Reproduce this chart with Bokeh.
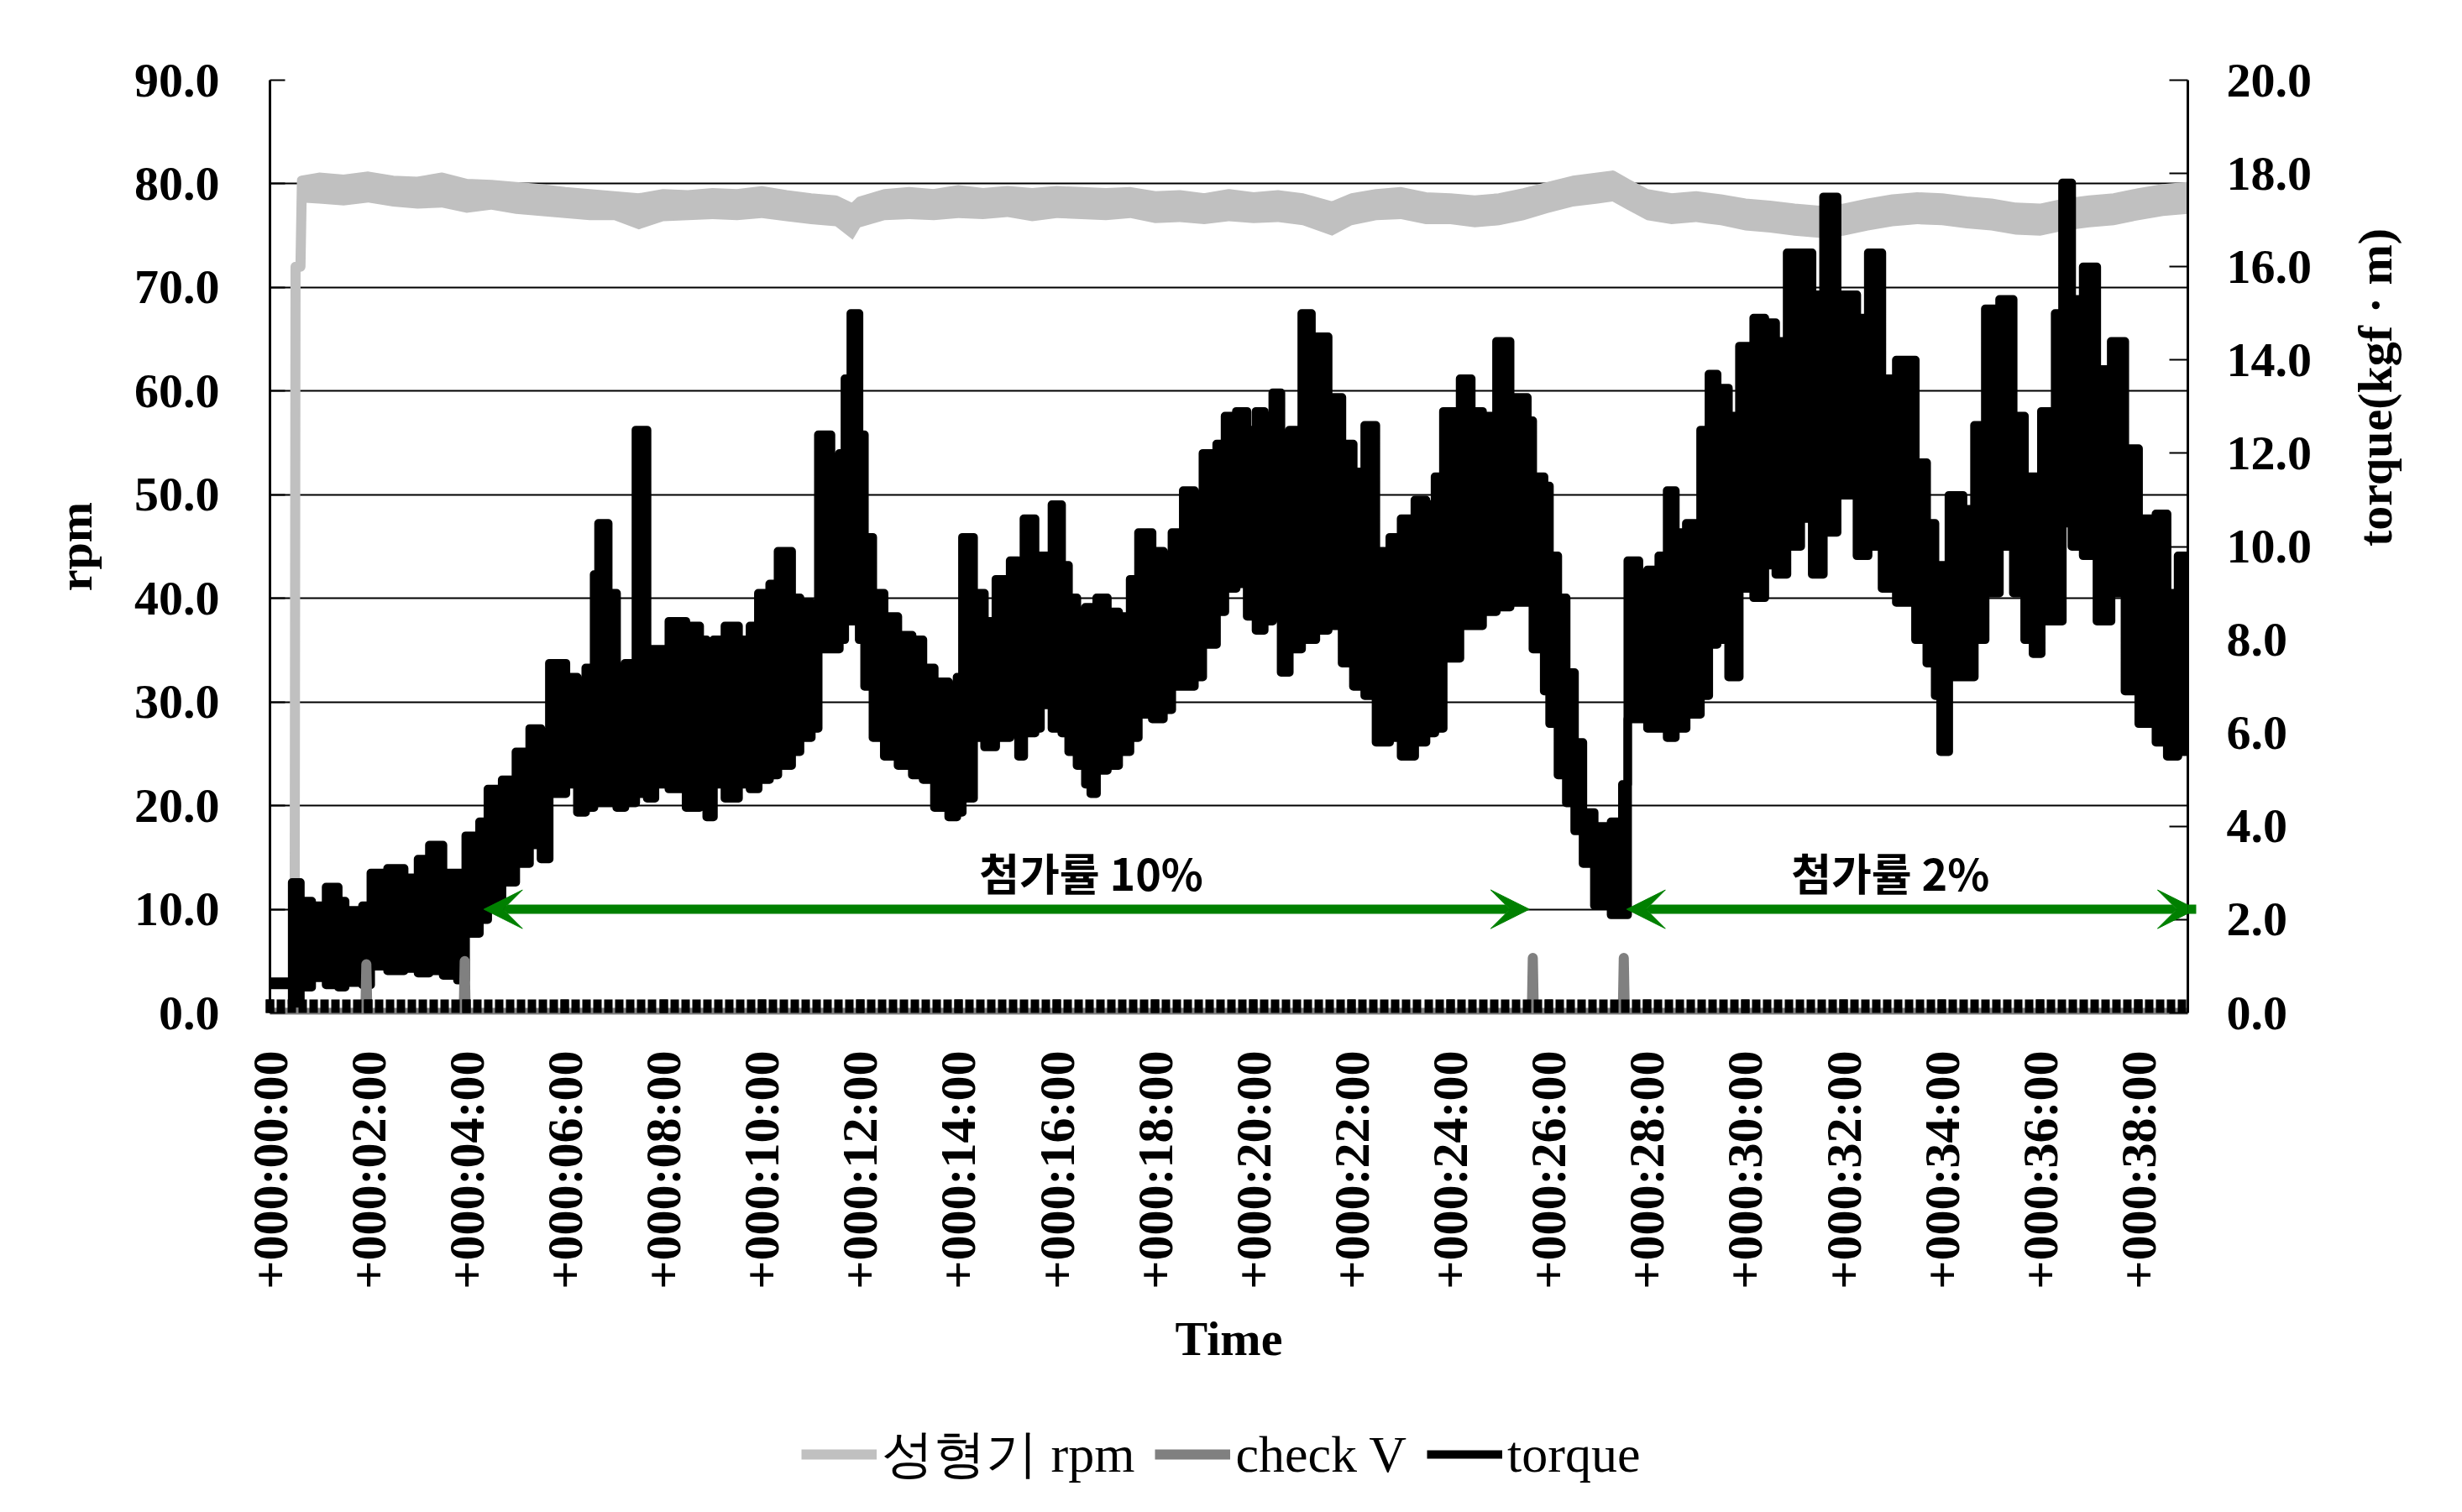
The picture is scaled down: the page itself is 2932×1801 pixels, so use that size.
import math
import numpy as np
from bokeh.plotting import figure
from bokeh.layouts import column
from bokeh.models import (Range1d, LinearAxis, FixedTicker, PrintfTickFormatter,
                          Legend, LegendItem, Arrow, VeeHead, Label)
from bokeh.embed import file_html
from bokeh.resources import INLINE

# ---------------- data ----------------
time_tick_minutes = [0, 2, 4, 6, 8, 10, 12, 14, 16, 18, 20, 22, 24, 26, 28, 30, 32, 34, 36, 38]
time_tick_labels = ["+000:00:00", "+000:02:00", "+000:04:00", "+000:06:00", "+000:08:00",
                    "+000:10:00", "+000:12:00", "+000:14:00", "+000:16:00", "+000:18:00",
                    "+000:20:00", "+000:22:00", "+000:24:00", "+000:26:00", "+000:28:00",
                    "+000:30:00", "+000:32:00", "+000:34:00", "+000:36:00", "+000:38:00"]

# 성형기 rpm (left axis): time in minutes, upper / lower edge of the noisy trace
rpm_t = [0.0, 0.5, 0.52, 0.62, 0.65, 1.0, 1.5, 2.0, 2.5, 3.0, 3.5, 4.0, 4.5, 5.0, 5.5, 6.0,
         6.5, 7.0, 7.5, 8.0, 8.5, 9.0, 9.5, 10.0, 10.5, 11.0, 11.5, 11.85, 12.0, 12.5, 13.0,
         13.5, 14.0, 14.5, 15.0, 15.5, 16.0, 16.5, 17.0, 17.5, 18.0, 18.5, 19.0, 19.5, 20.0,
         20.5, 21.0, 21.6, 22.0, 22.5, 23.0, 23.5, 24.0, 24.5, 25.0, 25.5, 26.0, 26.5, 27.0,
         27.3, 27.6, 28.0, 28.5, 29.0, 29.5, 30.0, 30.5, 31.0, 31.5, 32.0, 32.5, 33.0, 33.5,
         34.0, 34.5, 35.0, 35.5, 36.0, 36.5, 37.0, 37.5, 38.0, 38.5, 39.0]
rpm_hi = [0.0, 0.0, 72.0, 72.0, 80.3, 80.6, 80.4, 80.7, 80.3, 80.2, 80.6, 80.0, 79.9, 79.7,
          79.5, 79.2, 79.0, 78.8, 78.6, 79.0, 78.9, 79.1, 79.0, 79.3, 78.9, 78.6, 78.4, 77.6,
          78.3, 79.0, 79.2, 79.0, 79.4, 79.1, 79.3, 79.1, 79.3, 79.2, 79.1, 79.2, 78.8, 78.9,
          78.6, 79.0, 78.7, 78.9, 78.6, 77.8, 78.6, 79.0, 79.2, 78.7, 78.6, 78.4, 78.6, 79.1,
          79.7, 80.3, 80.6, 80.8, 80.0, 79.0, 78.6, 78.8, 78.5, 78.1, 77.9, 77.6, 77.4, 77.6,
          78.1, 78.5, 78.7, 78.6, 78.3, 78.1, 77.7, 77.6, 78.1, 78.4, 78.6, 79.1, 79.5, 79.7]
rpm_lo = [0.0, 0.0, 72.0, 72.0, 78.2, 78.1, 77.9, 78.2, 77.8, 77.6, 77.7, 77.2, 77.5, 77.1,
          76.9, 76.7, 76.5, 76.5, 75.6, 76.4, 76.5, 76.6, 76.5, 76.7, 76.4, 76.1, 75.9, 74.6,
          75.8, 76.5, 76.6, 76.5, 76.7, 76.6, 76.8, 76.4, 76.7, 76.6, 76.5, 76.7, 76.2, 76.3,
          76.1, 76.4, 76.2, 76.3, 76.0, 75.0, 76.0, 76.5, 76.6, 76.1, 76.1, 75.8, 76.0, 76.5,
          77.2, 77.8, 78.1, 78.3, 77.5, 76.5, 76.1, 76.3, 76.0, 75.5, 75.3, 75.0, 74.8, 75.0,
          75.5, 75.9, 76.1, 76.0, 75.7, 75.5, 75.1, 75.0, 75.5, 75.8, 76.0, 76.5, 76.9, 77.1]

# check V (left axis)
checkv_t = [0.0, 1.94, 1.96, 1.98, 3.94, 3.96, 3.98, 25.66, 25.68, 25.70, 27.51, 27.53, 27.55, 39.0]
checkv_v = [0.0, 0.0, 4.7, 0.0, 0.0, 5.0, 0.0, 0.0, 5.3, 0.0, 0.0, 5.3, 0.0, 0.0]

# torque (right axis, kgf·m): segment start time, upper and lower edge of the noisy trace
torque_t = [0.00, 0.45, 0.62, 0.85, 1.14, 1.39, 1.53, 1.88, 2.05, 2.39, 2.73, 3.01, 3.24, 3.52,
            3.81, 3.98, 4.26, 4.43, 4.72, 5.00, 5.28, 5.51, 5.68, 6.02, 6.25, 6.42, 6.59, 6.68,
            6.88, 7.05, 7.22, 7.44, 7.67, 7.83, 8.11, 8.46, 8.74, 8.88, 9.02, 9.25, 9.53, 9.76,
            9.93, 10.16, 10.33, 10.61, 10.78, 11.01, 11.15, 11.41, 11.58, 11.69, 11.81, 11.98,
            12.09, 12.26, 12.49, 12.77, 13.06, 13.28, 13.51, 13.80, 13.97, 14.08, 14.31, 14.53,
            14.76, 15.05, 15.22, 15.33, 15.56, 15.67, 15.90, 16.10, 16.24, 16.41, 16.58, 16.69,
            16.81, 17.03, 17.26, 17.49, 17.66, 17.94, 18.17, 18.34, 18.57, 18.80, 18.97, 19.25,
            19.42, 19.65, 19.87, 20.05, 20.22, 20.39, 20.56, 20.73, 20.98, 21.18, 21.27, 21.52,
            21.80, 22.03, 22.26, 22.49, 22.77, 23.00, 23.28, 23.51, 23.69, 23.86, 24.20, 24.43,
            24.66, 24.94, 25.22, 25.57, 25.68, 25.91, 26.02, 26.19, 26.36, 26.53, 26.70, 26.93,
            27.27, 27.50, 27.61, 27.84, 28.01, 28.24, 28.41, 28.58, 28.80, 29.09, 29.26, 29.43,
            29.66, 29.88, 30.17, 30.40, 30.62, 30.85, 31.13, 31.36, 31.59, 31.87, 32.27, 32.50,
            32.78, 33.07, 33.46, 33.69, 33.86, 33.97, 34.14, 34.43, 34.66, 34.88, 35.17, 35.45,
            35.68, 35.85, 36.02, 36.30, 36.45, 36.64, 36.87, 37.15, 37.44, 37.72, 38.00, 38.35,
            38.58, 38.80, 39.00]
torque_hi = [0.67, 2.8, 2.4, 2.3, 2.7, 2.4, 2.2, 2.3, 3.0, 3.1, 2.9, 3.3, 3.6, 3.0,
             3.0, 3.8, 4.1, 4.8, 5.0, 5.6, 6.1, 6.0, 7.5, 7.2, 7.1, 7.4, 9.4, 10.5,
             9.0, 7.3, 7.5, 12.5, 7.8, 7.8, 8.4, 8.3, 8.0, 7.3, 8.0, 8.3, 8.0, 8.3,
             9.0, 9.2, 9.9, 8.9, 8.8, 8.6, 12.4, 11.5, 12.0, 13.6, 15.0, 12.4,
             10.2, 9.0, 8.5, 8.1, 8.0, 7.4, 7.1, 6.8, 7.2, 10.2, 9.0, 8.4,
             9.3, 9.7, 8.2, 10.6, 9.8, 9.8, 10.9, 9.6, 8.9, 8.5, 8.7, 8.7,
             8.9, 8.6, 8.5, 9.3, 10.3, 9.9, 9.7, 10.3, 11.2, 10.8, 12.0, 12.2,
             12.8, 12.9, 12.5, 12.9, 12.6, 13.3, 12.2, 12.5, 15.0, 12.7, 14.5, 13.2,
             12.2, 11.6, 12.6, 9.9, 10.2, 10.6, 11.0, 10.9, 11.5, 12.9, 13.6, 12.9,
             12.8, 14.4, 13.2, 12.7, 11.5, 11.3, 9.8, 8.9, 7.3, 5.8, 4.3, 4.0,
             4.1, 4.9, 9.7, 9.0, 9.5, 9.8, 11.2, 10.3, 10.5, 12.5, 13.7, 13.4,
             12.8, 14.3, 14.9, 14.8, 14.4, 16.3, 16.3, 15.4, 17.5, 15.4, 14.9, 16.3,
             13.6, 14.0, 11.8, 10.5, 9.6, 9.6, 11.1, 10.8, 12.6, 15.1, 15.3, 12.8,
             11.5, 11.5, 12.9, 15.0, 17.8, 15.3, 16.0, 13.8, 14.4, 12.1, 10.6, 10.7,
             9.0, 9.8, 9.8]
torque_lo = [0.60, 0.2, 0.55, 0.75, 0.6, 0.55, 0.65, 0.6, 1.0, 0.9, 0.95, 0.85, 0.9, 0.8,
             0.7, 1.7, 2.0, 2.3, 2.8, 3.2, 3.6, 3.3, 4.7, 4.9, 4.3, 4.4, 4.6, 4.5,
             4.5, 4.4, 4.5, 4.7, 4.6, 4.9, 4.8, 4.4, 4.6, 4.2, 4.9, 4.6, 4.9, 4.8,
             5.0, 5.1, 5.3, 5.6, 5.9, 6.1, 7.8, 7.8, 8.0, 8.4, 8.4, 8.0,
             7.0, 5.9, 5.5, 5.3, 5.1, 5.0, 4.4, 4.2, 4.3, 4.6, 5.9, 5.7,
             5.9, 6.0, 5.5, 6.0, 6.1, 6.6, 6.1, 6.0, 5.6, 5.3, 4.9, 4.7,
             5.2, 5.3, 5.6, 5.9, 6.4, 6.3, 6.5, 7.0, 7.0, 7.2, 7.9, 8.6,
             9.1, 9.2, 8.5, 8.2, 8.4, 8.5, 7.3, 7.8, 8.0, 8.0, 8.2, 8.3,
             7.5, 7.0, 6.8, 5.8, 5.9, 5.5, 5.8, 6.0, 6.1, 7.6, 8.3, 8.3,
             8.6, 8.7, 8.8, 8.8, 7.8, 6.9, 6.2, 5.1, 4.5, 3.9, 3.2, 2.3,
             2.1, 2.1, 6.3, 6.3, 6.1, 6.1, 5.9, 6.1, 6.4, 6.8, 7.9, 8.0,
             7.2, 9.1, 8.9, 9.6, 9.4, 10.0, 10.6, 9.4, 10.3, 11.1, 9.8, 10.0,
             9.1, 8.8, 8.0, 7.5, 6.8, 5.6, 7.2, 7.2, 8.0, 9.0, 10.0, 9.0,
             8.0, 7.7, 8.4, 8.4, 10.5, 10.0, 9.8, 8.4, 9.0, 6.9, 6.2, 5.8,
             5.5, 5.6, 5.6]

# annotations
annot_text = ["첨가률 10%", "첨가률 2%"]
annot_x = [16.7, 32.95]
annot_y = [13.6, 13.6]
arrow_x0 = [4.35, 27.59]
arrow_x1 = [25.61, 39.17]
arrow_y = [10.0, 10.0]

SERIF = "Liberation Serif"
GRAY_RPM = "#C0C0C0"
GRAY_CHK = "#808080"
GREEN = "#008000"

p = figure(width=2932, height=1680, x_range=Range1d(0, 39.0), y_range=Range1d(0, 90),
           output_backend="svg", toolbar_location=None,
           min_border_left=321, min_border_right=327, min_border_top=95, min_border_bottom=474)
p.extra_y_ranges = {"torque": Range1d(0, 20)}
p.outline_line_color = None
p.background_fill_color = "white"
p.border_fill_color = "white"

# grid
p.xgrid.visible = False
p.ygrid[0].ticker = FixedTicker(ticks=[10, 20, 30, 40, 50, 60, 70, 80])
p.ygrid.grid_line_color = "black"
p.ygrid.grid_line_width = 2

# left axis
ly = p.yaxis[0]
ly.ticker = FixedTicker(ticks=[0, 10, 20, 30, 40, 50, 60, 70, 80, 90])
ly.formatter = PrintfTickFormatter(format="%.1f")
ly.axis_label = "rpm"

# right axis
ry = LinearAxis(y_range_name="torque",
                ticker=FixedTicker(ticks=[0, 2, 4, 6, 8, 10, 12, 14, 16, 18, 20]),
                formatter=PrintfTickFormatter(format="%.1f"),
                axis_label="torque(kgf · m)")
p.add_layout(ry, "right")
try:
    ry.axis_label_orientation = math.pi / 2
except Exception:
    pass

for ax, tin, stand, lstand in [(ly, 18, 60, 35), (ry, 22, 46, 72)]:
    ax.major_tick_in = tin
    ax.major_tick_out = 0
    ax.minor_tick_line_color = None
    ax.major_tick_line_width = 2
    ax.major_tick_line_color = "black"
    ax.axis_line_color = "black"
    ax.axis_line_width = 3
    ax.major_label_text_font = SERIF
    ax.major_label_text_font_style = "bold"
    ax.major_label_text_font_size = "58px"
    ax.major_label_text_color = "black"
    ax.major_label_standoff = stand
    ax.axis_label_text_font = SERIF
    ax.axis_label_text_font_style = "bold"
    ax.axis_label_text_font_size = "58px"
    ax.axis_label_text_color = "black"
    ax.axis_label_standoff = lstand

# bottom axis
bx = p.xaxis[0]
bx.ticker = FixedTicker(ticks=time_tick_minutes,
                        minor_ticks=[float(v) for v in np.arange(0, 39.0, 2.0 / 9.0)])
bx.major_label_overrides = {m: lab for m, lab in zip(time_tick_minutes, time_tick_labels)}
bx.major_label_orientation = math.pi / 2
bx.major_label_text_font = SERIF
bx.major_label_text_font_style = "bold"
bx.major_label_text_font_size = "60px"
bx.major_label_text_color = "black"
bx.major_label_standoff = 45
bx.major_tick_in = 16
bx.major_tick_out = 0
bx.minor_tick_in = 16
bx.minor_tick_out = 0
bx.major_tick_line_width = 10
bx.minor_tick_line_width = 10
bx.major_tick_line_color = "black"
bx.minor_tick_line_color = "black"
bx.axis_line_color = GRAY_CHK
bx.axis_line_width = 4
bx.axis_label = "Time"
bx.axis_label_text_font = SERIF
bx.axis_label_text_font_style = "bold"
bx.axis_label_text_font_size = "58px"
bx.axis_label_text_color = "black"
bx.axis_label_standoff = 23

# series
p.varea(x=rpm_t, y1=rpm_lo, y2=rpm_hi, fill_color=GRAY_RPM)
p.line(rpm_t, rpm_hi, line_color=GRAY_RPM, line_width=12, line_join="round")

p.varea_step(x=torque_t, y1=torque_lo, y2=torque_hi, step_mode="after",
             fill_color="black", y_range_name="torque")
p.step(torque_t, torque_hi, mode="after", line_color="black", line_width=10,
       line_join="round", y_range_name="torque")
p.step(torque_t, torque_lo, mode="after", line_color="black", line_width=10,
       line_join="round", y_range_name="torque")

p.line(checkv_t, checkv_v, line_color=GRAY_CHK, line_width=12,
       line_join="round", line_cap="round")

# arrows and texts
for i in range(len(arrow_x0)):
    p.add_layout(Arrow(start=VeeHead(size=46, fill_color=GREEN, line_color=GREEN),
                       end=VeeHead(size=46, fill_color=GREEN, line_color=GREEN),
                       x_start=arrow_x0[i], y_start=arrow_y[i],
                       x_end=arrow_x1[i], y_end=arrow_y[i],
                       line_color=GREEN, line_width=11))
for i in range(len(annot_text)):
    p.add_layout(Label(x=annot_x[i], y=annot_y[i], text=annot_text[i],
                       text_font="Noto Sans CJK KR", text_font_style="bold",
                       text_font_size="52px", text_align="center", text_baseline="middle",
                       text_color="black"))

# legend strip below the chart: same series, drawn outside its (empty) view range
leg = figure(width=2932, height=121, x_range=Range1d(1000, 1001), y_range=Range1d(1000, 1001),
             output_backend="svg", toolbar_location=None,
             x_axis_location=None, y_axis_location=None, min_border=0)
leg.grid.visible = False
leg.outline_line_color = None
leg.background_fill_color = "white"
leg.border_fill_color = "white"
l_rpm = leg.line(rpm_t, rpm_hi, line_color=GRAY_RPM, line_width=12)
l_chk = leg.line(checkv_t, checkv_v, line_color=GRAY_CHK, line_width=12)
l_tq = leg.step(torque_t, torque_hi, mode="after", line_color="black", line_width=10)

legend = Legend(items=[LegendItem(label="성형기 rpm", renderers=[l_rpm]),
                       LegendItem(label="check V", renderers=[l_chk]),
                       LegendItem(label="torque", renderers=[l_tq])],
                orientation="horizontal", location=(633, 27),
                label_text_font=SERIF, label_text_font_size="62px",
                label_text_color="black",
                glyph_width=90, glyph_height=30, label_standoff=6, spacing=24,
                border_line_color=None, background_fill_alpha=0, margin=0, padding=0)
leg.add_layout(legend)

layout = column(p, leg, spacing=0)
open("out.html", "w").write(file_html(layout, INLINE))
